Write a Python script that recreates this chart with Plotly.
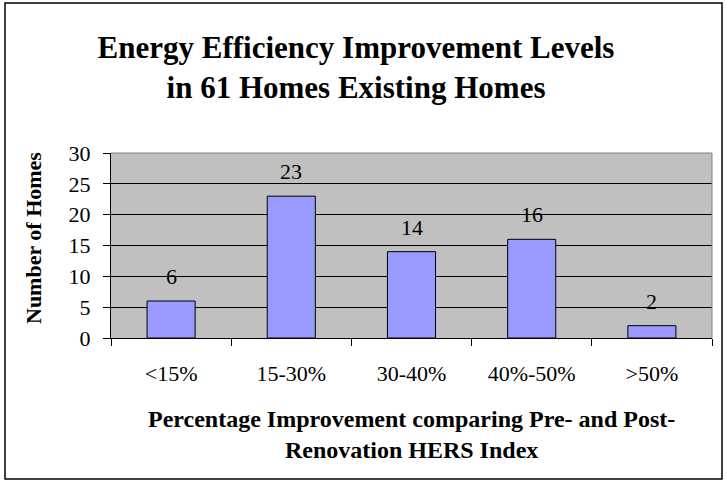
import plotly.graph_objects as go

categorias = ["<15%", "15-30%", "30-40%", "40%-50%", ">50%"]
num_homes = [6, 23, 14, 16, 2]
y_ticks = [0, 5, 10, 15, 20, 25, 30]

titulo = "<b>Energy Efficiency Improvement Levels<br>in 61 Homes Existing Homes</b>"
x_titulo = "<b>Percentage Improvement comparing Pre- and Post-<br>Renovation HERS Index</b>"
y_titulo = "<b>Number of Homes</b>"

W, H = 726, 482
ML, MR, MT, MB = 111, 14, 153, 144
fuente = "Liberation Serif, Times New Roman, serif"

fig = go.Figure()

fig.add_trace(
    go.Bar(
        x=categorias,
        y=num_homes,
        width=0.4,
        marker=dict(color="#9999FF", line=dict(color="black", width=1)),
        showlegend=False,
    )
)

# etiquetas de valor encima de cada barra
for cat, val in zip(categorias, num_homes):
    fig.add_annotation(
        x=cat, y=val,
        text=str(val),
        showarrow=False,
        yanchor="bottom",
        yshift=10,
        font=dict(size=22, color="black", family=fuente),
    )

pw = W - ML - MR
ph = H - MT - MB

# titulos de los ejes como anotaciones (posicion fija)
fig.add_annotation(
    xref="paper", yref="paper",
    x=(411 - ML) / pw, y=1 - (434 - MT) / ph,
    text=x_titulo, showarrow=False,
    xanchor="center", yanchor="middle",
    font=dict(size=24, family=fuente, color="black"),
)
fig.add_annotation(
    xref="paper", yref="paper",
    x=-(ML - 33) / pw, y=1 - (238 - MT) / ph,
    text=y_titulo, showarrow=False, textangle=-90,
    xanchor="center", yanchor="middle",
    font=dict(size=22, family=fuente, color="black"),
)

# marco exterior del grafico
fig.add_shape(
    type="rect", xref="paper", yref="paper",
    x0=-(ML - 5) / pw, x1=1 + (MR - 4) / pw,
    y0=-(MB - 3) / ph, y1=1 + (MT - 3) / ph,
    line=dict(color="black", width=1.5),
)
# borde gris superior y derecho del area de trazado
fig.add_shape(type="line", xref="paper", yref="paper", x0=0, x1=1, y0=1, y1=1,
              line=dict(color="#808080", width=1))
fig.add_shape(type="line", xref="paper", yref="paper", x0=1, x1=1, y0=0, y1=1,
              line=dict(color="#808080", width=1))

fig.update_layout(
    width=W,
    height=H,
    margin=dict(l=ML, r=MR, t=MT, b=MB),
    paper_bgcolor="white",
    plot_bgcolor="#C0C0C0",
    font=dict(family=fuente, color="black"),
    title=dict(
        text=titulo,
        x=356 / W, xanchor="center",
        y=1 - 58 / H, yanchor="middle",
        xref="container", yref="container",
        font=dict(size=31, family=fuente, color="black"),
    ),
    bargap=0.6,
)

fig.update_xaxes(
    type="category",
    automargin=False,
    showline=True, linecolor="black", linewidth=1,
    ticks="outside", tickson="boundaries", ticklen=7, tickcolor="black",
    ticklabelstandoff=16,
    tickfont=dict(size=22, family=fuente),
    showgrid=False,
)

fig.update_yaxes(
    range=[0, 30],
    automargin=False,
    tickvals=y_ticks,
    showline=True, linecolor="black", linewidth=1,
    ticks="outside", ticklen=7, tickcolor="black",
    ticklabelstandoff=8,
    tickfont=dict(size=22, family=fuente),
    showgrid=True, gridcolor="black", gridwidth=1,
    zeroline=False,
)

# quitar el margen por defecto del body para que el grafico empiece en (0,0)
fig.write_html(
    "out.html",
    config={"displayModeBar": False},
    post_script="document.body.style.margin='0';",
)
